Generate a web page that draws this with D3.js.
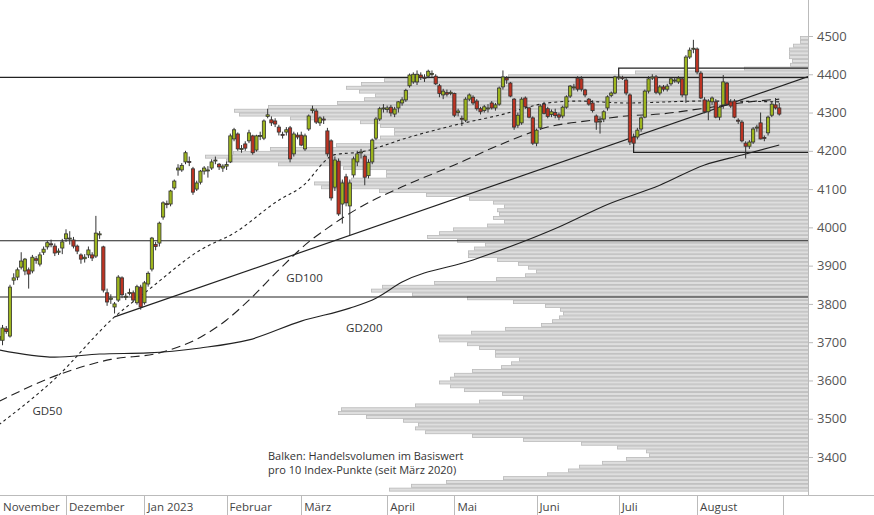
<!DOCTYPE html>
<html><head><meta charset="utf-8">
<script src="https://cdn.jsdelivr.net/npm/d3@7"></script>
<style>body{margin:0;background:#fff}svg{display:block;font-family:"Open Sans","Noto Sans",sans-serif}</style>
</head><body><svg id="c" width="874" height="515"></svg>
<script>
// OHLC per trading day, starting 7 Nov 2022
const candles = [
[3705,3725,3695,3715],[3705,3745,3692,3737],[3735,3742,3722,3728],[3716,3850,3712,3844],[3862,3880,3850,3868],
[3870,3895,3862,3889],[3896,3935,3890,3912],[3886,3920,3875,3917],[3889,3895,3840,3878],[3886,3928,3880,3922],
[3918,3925,3905,3914],[3904,3935,3898,3928],[3935,3950,3928,3943],[3949,3965,3942,3960],[3957,3968,3948,3955],
[3951,3958,3925,3933],[3935,3945,3928,3938],[3946,3970,3930,3962],
[3970,3995,3962,3983],[3970,3990,3955,3972],[3967,3975,3945,3951],[3951,3955,3930,3938],[3928,3932,3905,3917],
[3918,3930,3908,3922],[3928,3950,3920,3941],[3928,3935,3912,3920],[3925,4030,3920,3985],[3982,3990,3970,3983],
[3949,3952,3830,3836],[3829,3840,3795,3805],[3812,3825,3800,3815],[3792,3805,3775,3800],[3810,3875,3805,3870],
[3868,3872,3815,3824],[3818,3828,3810,3820],[3828,3840,3822,3830],[3829,3835,3805,3810],[3803,3850,3798,3845],
[3844,3850,3785,3792],
[3803,3860,3798,3855],[3852,3885,3845,3880],[3891,3975,3885,3972],[3955,3962,3940,3950],[3959,4015,3950,4011],
[4027,4068,4020,4064],[4062,4070,4050,4060],[4061,4098,4055,4095],[4103,4125,4098,4121],[4150,4165,4135,4155],
[4150,4168,4145,4162],[4171,4200,4165,4195],[4172,4185,4160,4171],[4153,4158,4085,4092],[4100,4122,4095,4116],
[4118,4150,4112,4147],[4147,4160,4138,4155],[4148,4160,4130,4150],[4155,4178,4150,4171],[4176,4185,4165,4176],
[4165,4168,4150,4158],[4155,4165,4145,4160],
[4160,4172,4150,4164],[4171,4245,4168,4239],[4231,4260,4225,4255],[4244,4248,4200,4205],[4205,4215,4195,4206],
[4218,4225,4200,4207],[4226,4255,4220,4247],[4239,4242,4190,4195],[4202,4242,4198,4239],[4239,4250,4228,4240],
[4233,4282,4228,4278],[4290,4310,4285,4294],[4281,4290,4265,4273],[4278,4285,4262,4270],[4262,4268,4240,4249],
[4243,4250,4232,4241],[4249,4262,4240,4255],[4260,4265,4170,4179],[4192,4250,4185,4244],[4241,4248,4230,4236],
[4241,4250,4212,4215],[4205,4245,4200,4239],[4257,4295,4252,4291],[4305,4318,4298,4309],[4304,4310,4270,4275],
[4273,4290,4265,4286],[4283,4290,4270,4281],[4252,4260,4185,4192],[4226,4230,4070,4077],[4105,4185,4095,4176],
[4173,4180,4030,4035],[4061,4125,4010,4116],[4132,4140,4055,4064],[4056,4125,3980,4116],[4137,4185,4130,4179],
[4171,4200,4160,4192],[4195,4205,4180,4197],[4186,4190,4110,4131],[4135,4178,4128,4170],[4171,4232,4165,4228],
[4233,4288,4228,4283],[4283,4315,4278,4310],[4310,4322,4300,4312],
[4308,4318,4300,4312],[4314,4320,4290,4299],[4296,4315,4288,4309],[4312,4330,4300,4328],[4325,4340,4318,4333],
[4333,4362,4328,4358],[4370,4402,4365,4398],[4380,4405,4375,4400],[4380,4410,4372,4400],[4398,4405,4385,4392],
[4392,4400,4380,4390],[4395,4412,4390,4408],[4400,4410,4392,4402],[4395,4400,4372,4375],[4370,4375,4340,4350],
[4346,4362,4335,4356],[4352,4360,4342,4348],[4350,4358,4345,4353],
[4350,4352,4288,4293],[4300,4310,4290,4304],[4285,4292,4265,4283],[4280,4340,4275,4335],[4335,4350,4330,4346],
[4340,4345,4320,4325],[4330,4335,4305,4310],[4310,4315,4295,4302],[4305,4320,4300,4315],[4310,4322,4300,4312],
[4325,4330,4308,4312],[4312,4325,4305,4320],[4322,4368,4318,4364],[4367,4410,4360,4393],[4390,4395,4375,4385],
[4377,4380,4340,4343],[4335,4338,4255,4262],[4267,4300,4260,4293],[4273,4340,4268,4335],[4338,4342,4310,4315],
[4312,4315,4285,4288],[4286,4290,4215,4220],
[4220,4258,4212,4254],[4260,4322,4255,4317],[4322,4328,4295,4298],[4310,4315,4285,4290],[4295,4308,4288,4302],
[4300,4310,4285,4292],[4294,4300,4280,4288],[4291,4318,4285,4314],[4314,4345,4310,4341],[4343,4372,4338,4369],
[4365,4375,4358,4367],[4390,4395,4355,4361],[4388,4395,4355,4361],[4359,4362,4340,4346],[4335,4338,4318,4322],
[4325,4332,4300,4305],[4291,4295,4255,4275],[4276,4290,4245,4278],[4283,4306,4275,4302],[4312,4345,4305,4341],
[4345,4355,4340,4351],[4351,4396,4348,4393],
[4392,4398,4385,4393],[4392,4396,4385,4390],[4385,4390,4345,4351],[4346,4350,4215,4223],[4236,4245,4212,4220],
[4236,4260,4230,4254],[4257,4290,4250,4286],[4288,4360,4285,4356],[4356,4395,4350,4388],[4390,4400,4385,4393],
[4393,4398,4348,4353],[4351,4372,4345,4367],[4367,4372,4355,4361],[4361,4375,4355,4369],[4375,4392,4370,4388],
[4383,4392,4378,4385],[4380,4395,4375,4390],[4388,4392,4340,4346],[4346,4450,4325,4445],[4445,4470,4440,4463],
[4466,4490,4455,4468],
[4466,4470,4400,4406],[4403,4408,4335,4338],[4333,4340,4298,4302],[4302,4335,4280,4330],[4328,4342,4320,4338],
[4328,4335,4285,4288],[4288,4318,4280,4314],[4320,4398,4310,4380],[4377,4380,4318,4322],[4328,4335,4312,4317],
[4330,4335,4285,4288],[4280,4285,4270,4278],[4275,4280,4222,4226],[4220,4225,4180,4212],[4212,4228,4205,4223],
[4223,4262,4218,4257],[4260,4268,4250,4262],[4273,4300,4230,4231],[4235,4240,4225,4233],[4247,4292,4240,4288],
[4293,4330,4288,4322],[4320,4338,4308,4312],[4312,4325,4292,4296]
];
// month labels and index of first trading day
const monthLabels = ["November","Dezember","Jan 2023","Februar","März","April","Mai","Juni","Juli","August"];
const monthStart = [-4,18,39,61,81,104,122,144,166,187,210];
// moving averages [trading-day index, value]
const gd50 = [[0,3484],[15,3604],[31,3766],[40,3836],[54,3941],[63,3985],[75,4071],[81,4105],[90,4190],[97,4197],[109,4233],[122,4267],[134,4293],[147,4325],[155,4330],[168,4325],[188,4330],[209,4328]];
const gd100 = [[0,3545],[16,3615],[30,3655],[43,3672],[54,3713],[61,3758],[67,3810],[75,3889],[83,3962],[88,3998],[97,4054],[108,4106],[122,4163],[134,4215],[147,4262],[159,4280],[168,4291],[177,4296],[188,4310],[201,4328],[209,4335]];
const gd200 = [[0,3680],[15,3661],[27,3669],[40,3672],[54,3685],[67,3706],[81,3755],[94,3789],[101,3815],[108,3857],[127,3915],[150,4001],[163,4060],[177,4110],[189,4163],[199,4189],[209,4215]];
const maLabels = [["GD50",9,3510],["GD100",77,3857],["GD200",93,3727]];
// horizontal levels and trend line
const levels = [4392, 3965, 3818];
const trendLine = [[31,3766],[217,4395]];
const resistBox = [[166,4393],[166,4416],[217,4416]];
const supportBox = [[170,4223],[170,4196],[217,4196]];
// volume profile per 10 index points (top bin 4490 downwards)
const volTop = 4490;
const volume = [8,8,15,19,19,19,16,18,64,173,300,424,447,462,449,433,444,471,540,574,569,518,448,428,414,414,428,437,472,538,575,603,582,530,465,422,422,457,494,487,429,382,339,315,304,311,309,315,304,321,355,369,381,351,323,334,340,340,311,290,280,272,283,312,374,426,437,396,341,295,263,248,245,249,256,267,303,337,370,369,341,329,313,313,289,297,307,336,354,358,369,358,344,306,285,329,393,467,470,442,405,390,393,383,336,285,227,191,162,159,182,206,229,240,261,305,362,397,419];
const yTicks = [3400,3500,3600,3700,3800,3900,4000,4100,4200,4300,4400,4500];
const note = ["Balken: Handelsvolumen im Basiswert","pro 10 Index-Punkte (seit März 2020)"];

const svg = d3.select("#c");
const R = 808, B = 495;
const x = d3.scaleLinear().domain([18,210]).range([66,783]);
const y = d3.scaleLinear().domain([3400,4500]).range([457,36]);
const vx = d3.scaleLinear().domain([0,1]).range([R,R-1]);
svg.append("clipPath").attr("id","cp").append("rect").attr("x",0).attr("y",0).attr("width",R).attr("height",B);
const g = svg.append("g").attr("clip-path","url(#cp)");

const bins = volume.map((v,i)=>({p:volTop-i*10,v}));
g.selectAll(".vb").data(bins).join("rect")
 .attr("x",d=>vx(d.v)+0.5).attr("width",d=>R-vx(d.v))
 .attr("y",d=>y(d.p+10)+0.5).attr("height",d=>y(d.p)-y(d.p+10)-0.8)
 .attr("fill","#dedede").attr("stroke","#b9b9b9").attr("stroke-width",0.8);

g.selectAll(".lv").data(levels).join("line").attr("x1",0).attr("x2",R)
 .attr("y1",d=>y(d)).attr("y2",d=>y(d)).attr("stroke","#222").attr("stroke-width",1.2);
const ln = d3.line().x(d=>x(d[0])).y(d=>y(d[1]));
[resistBox,supportBox,trendLine].forEach(a=>g.append("path").attr("d",ln(a)).attr("fill","none").attr("stroke","#222").attr("stroke-width",1.2));
const cl = d3.line().x(d=>x(d[0])).y(d=>y(d[1])).curve(d3.curveMonotoneX);
g.append("path").attr("d",cl(gd200)).attr("fill","none").attr("stroke","#222").attr("stroke-width",1.1);
g.append("path").attr("d",cl(gd100)).attr("fill","none").attr("stroke","#222").attr("stroke-width",1.1).attr("stroke-dasharray","9,5");
g.append("path").attr("d",cl(gd50)).attr("fill","none").attr("stroke","#222").attr("stroke-width",1.1).attr("stroke-dasharray","3,3");
svg.selectAll(".mal").data(maLabels).join("text").attr("x",d=>x(d[1])).attr("y",d=>y(d[2]))
 .attr("font-size",11.5).attr("fill","#333").text(d=>d[0]);

const cg = g.selectAll(".cd").data(candles).join("g");
cg.append("line").attr("x1",(d,i)=>x(i)).attr("x2",(d,i)=>x(i)).attr("y1",d=>y(d[1])).attr("y2",d=>y(d[2])).attr("stroke","#333").attr("stroke-width",1);
cg.append("rect").attr("x",(d,i)=>x(i)-1.6).attr("width",3.2)
 .attr("y",d=>y(Math.max(d[0],d[3]))).attr("height",d=>Math.max(1,Math.abs(y(d[0])-y(d[3]))))
 .attr("fill",d=>d[3]>=d[0]?"#9db51d":"#bd3322").attr("stroke","#333").attr("stroke-width",0.8);

svg.selectAll(".nt").data(note).join("text").attr("x",268).attr("y",(d,i)=>460+i*14)
 .attr("font-size",11).attr("fill","#333").text(d=>d);

svg.append("line").attr("x1",R+0.5).attr("x2",R+0.5).attr("y1",0).attr("y2",B).attr("stroke","#bbb");
const ya = svg.append("g").attr("transform",`translate(${R},0)`).call(d3.axisRight(y).tickValues(yTicks).tickSize(5).tickFormat(d3.format("d")));
ya.select(".domain").remove();
ya.selectAll("line").attr("stroke","#bbb");
ya.selectAll("text").attr("font-size",13).attr("fill","#555").attr("x",9).attr("font-family","Open Sans");
svg.append("line").attr("x1",0).attr("x2",874).attr("y1",B+0.5).attr("y2",B+0.5).attr("stroke","#bbb");
svg.selectAll(".mt").data(monthStart.filter(d=>d>0)).join("line").attr("x1",d=>Math.round(x(d))+0.5).attr("x2",d=>Math.round(x(d))+0.5)
 .attr("y1",B).attr("y2",515).attr("stroke","#bbb");
svg.selectAll(".ml").data(monthLabels).join("text").attr("x",(d,i)=>Math.max(0,x(monthStart[i]))+3).attr("y",511)
 .attr("font-size",11.5).attr("fill","#444").text(d=>d);
</script></body></html>
